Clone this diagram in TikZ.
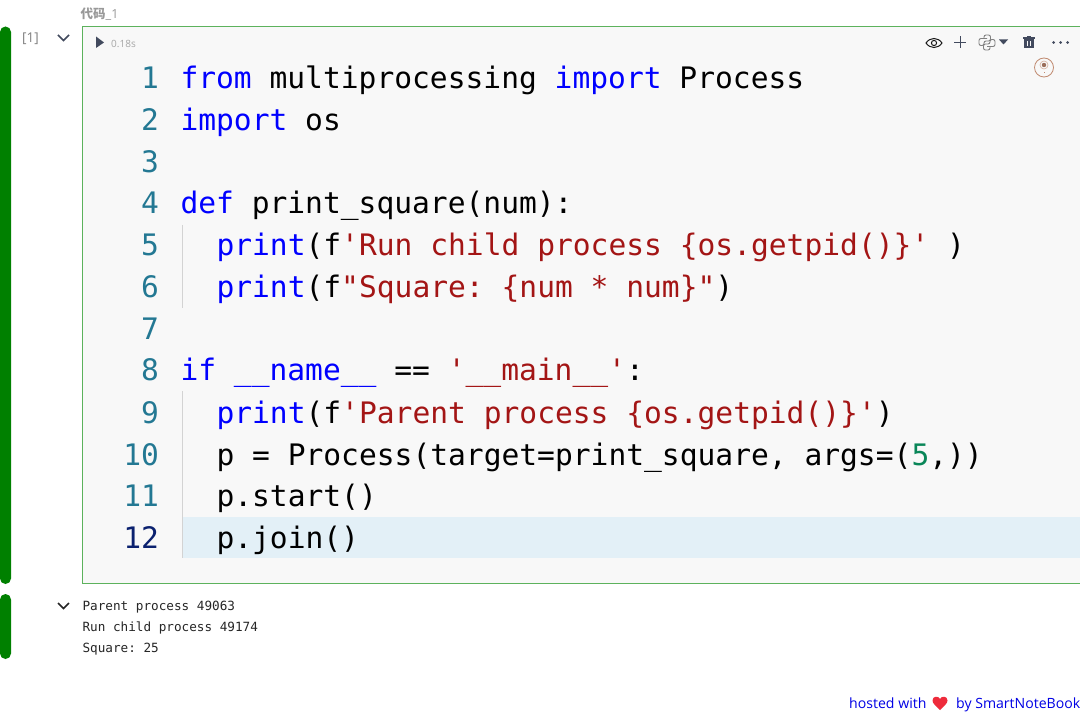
\documentclass[tikz,border=0pt]{standalone}
\usepackage{fontspec}
\setmainfont{Open Sans}
\newfontfamily\codefont{DejaVu Sans Mono}
\newfontfamily\cjkfont{Noto Sans CJK SC}
\frenchspacing
\definecolor{kw}{HTML}{0000FF}
\definecolor{str}{HTML}{A31515}
\definecolor{num}{HTML}{098658}
\definecolor{ln}{HTML}{237893}
\definecolor{lnact}{HTML}{0B216F}
\definecolor{bar}{HTML}{008000}
\definecolor{frame}{HTML}{5CB25C}
\definecolor{cellbg}{HTML}{F8F8F8}
\definecolor{hl}{HTML}{E3F0F7}
\definecolor{icon}{HTML}{424A5E}
\definecolor{guide}{HTML}{D3D3D3}
\definecolor{seal}{HTML}{C08A70}
\definecolor{heart}{HTML}{EE2B3B}
\newcommand{\K}[1]{\textcolor{kw}{#1}}
\newcommand{\Sg}[1]{\textcolor{str}{#1}}
\newcommand{\Nm}[1]{\textcolor{num}{#1}}
\tikzset{
 code/.style={anchor=base west,inner sep=0pt,outer sep=0pt,font=\codefont\fontsize{29.6}{30}\selectfont\frenchspacing,text=black},
 lnum/.style={anchor=base east,inner sep=0pt,outer sep=0pt,font=\codefont\fontsize{29.6}{30}\selectfont,text=ln},
 outtext/.style={anchor=base west,inner sep=0pt,outer sep=0pt,font=\codefont\fontsize{12.67}{14}\selectfont\frenchspacing,text=black!85},
 greenbar/.style={fill=bar,rounded corners=5.5pt,draw=none},
 chev/.style={draw=icon,line width=1.5pt,line join=miter},
}
\begin{document}
\begin{tikzpicture}[x=1pt,y=-1pt]
\useasboundingbox (0,0) rectangle (1080,714);
\fill[white] (0,0) rectangle (1080,714);
% side bars
\path[greenbar] (0,26.5) rectangle (11,584);
\path[greenbar] (0,594) rectangle (11,659);
% cell
\draw[frame,fill=cellbg,line width=1pt] (82,27) rectangle (1081,583);
\fill[hl] (183,516.5) rectangle (1079.5,558);
\draw[guide,line width=1pt] (182,225) -- (182,308);
\draw[guide,line width=1pt] (182,391) -- (182,558);
% heading
\node[anchor=base west,inner sep=0pt,text=black!40,font=\fontsize{12.5}{13}\selectfont] (title) at (80.5,18.5) {{\cjkfont\bfseries 代码}\_1};
\node[anchor=base west,inner sep=0pt,text=black!50,font=\fontsize{13.5}{14}\selectfont] (count) at (22,43) {[1]};
\node[anchor=base west,inner sep=0pt,text=black!35,font=\fontsize{10}{11}\selectfont] (time) at (111,47.5) {0.18s};
% chevrons and run arrow
\draw[chev] (58,35) -- (63.5,40.5) -- (69,35);
\draw[chev,draw=black!85] (58,603) -- (63.5,608.5) -- (69,603);
\fill[icon] (96,36.5) -- (104,42.5) -- (96,48) -- cycle;
% toolbar icons
\begin{scope}[shift={(934,43)}]
\draw[black!90,line width=1pt] (-8,0) .. controls (-4,-6) and (4,-6) .. (8,0) .. controls (4,6) and (-4,6) .. (-8,0) -- cycle;
\draw[black!90,line width=1pt] (0,0) circle (2.6);
\end{scope}
\draw[icon,line width=.9pt] (954,42.5) -- (966,42.5) (960,36.5) -- (960,48.5);
\begin{scope}[shift={(987,42.5)}]
\draw[black!50,line width=.9pt,rounded corners=2pt] (-3,-4) -- (-3,-7.5) -- (3.5,-7.5) -- (3.5,-1.5) -- (-3,-1.5) -- (-3,3) -- (-8,3) -- (-8,-4) -- (0,-4);
\draw[black!50,line width=.9pt,rounded corners=2pt] (3,4) -- (3,7.5) -- (-3.5,7.5) -- (-3.5,1.5) -- (3,1.5) -- (3,-3) -- (8,-3) -- (8,4) -- (0,4);
\end{scope}
\fill[icon] (999,39.5) -- (1008,39.5) -- (1003.5,44.5) -- cycle;
\begin{scope}[shift={(1029,42.5)}]
\fill[icon] (-6,-5) rectangle (6,-3.5);
\fill[icon] (-2,-6.5) rectangle (2,-5);
\fill[icon] (-5,-3) rectangle (5,6);
\draw[cellbg,line width=.7pt] (-1.7,-1) -- (-1.7,4) (1.7,-1) -- (1.7,4);
\end{scope}
\fill[icon] (1053.5,42.5) circle (1.5) (1060.5,42.5) circle (1.5) (1067.5,42.5) circle (1.5);
\begin{scope}[shift={(1044,67.5)}]
\draw[seal,line width=.8pt] (0,0) circle (9.5);
\fill[seal!80!black] (0,-2.5) circle (2.2);
\draw[seal!70,line width=.6pt] (0,-2.5) circle (4);
\fill[seal] (-.4,4.5) rectangle (.4,6);
\end{scope}
% line numbers
\foreach \n/\y in {1/89,2/131,3/172.5,4/214,5/256,6/298,7/339.5,8/381,9/423,10/465,11/506.5}{
  \node[lnum] (n\n) at (159,\y) {\n};
}
\node[lnum,text=lnact] (n12) at (159,548) {12};
% code
\node[code] (c1) at (180.5,89) {\K{from} multiprocessing \K{import} Process};
\node[code] (c2) at (180.5,131) {\K{import} os};
\node[code] (c4) at (180.5,214) {\K{def} print\_square(num):};
\node[code] (c5) at (216.5,256) {\K{print}(f\Sg{'Run child process \{os.getpid()\}'} )};
\node[code] (c6) at (216.5,298) {\K{print}(f\Sg{"Square: \{num * num\}"})};
\node[code] (c8) at (180.5,381) {\K{if} \K{\_\_name\_\_} == \Sg{'\_\_main\_\_'}:};
\node[code] (c9) at (216.5,423) {\K{print}(f\Sg{'Parent process \{os.getpid()\}'})};
\node[code] (c10) at (216.5,465) {p = Process(target=print\_square, args=(\Nm{5},))};
\node[code] (c11) at (216.5,506.5) {p.start()};
\node[code] (c12) at (216.5,548) {p.join()};
% output
\node[outtext] (o1) at (82.5,610.5) {Parent process 49063};
\node[outtext] (o2) at (82.5,631.5) {Run child process 49174};
\node[outtext] (o3) at (82.5,652.5) {Square: 25};
% footer
\node[anchor=base west,inner sep=0pt,text=blue!90!black,font=\fontsize{14.1}{15}\selectfont] (h1) at (849,708) {hosted with};
\node[anchor=base east,inner sep=0pt,text=blue!90!black,font=\fontsize{14.1}{15}\selectfont] (h2) at (1080.5,708) {by SmartNoteBook};
\fill[heart] (940,710) .. controls (936,706) and (932.5,703.5) .. (932.5,700.5) .. controls (932.5,696) and (938.5,695.5) .. (940,699) .. controls (941.5,695.5) and (947.5,696) .. (947.5,700.5) .. controls (947.5,703.5) and (944,706) .. (940,710) -- cycle;
\end{tikzpicture}
\end{document}
